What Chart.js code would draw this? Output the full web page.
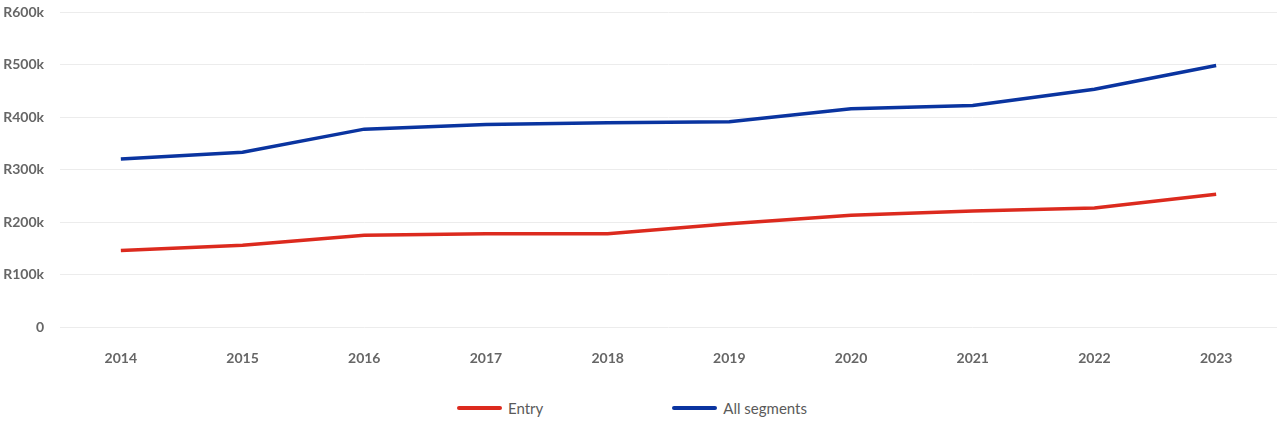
<!DOCTYPE html>
<html>
<head>
<meta charset="utf-8">
<script src="https://cdn.jsdelivr.net/npm/chart.js@4"></script>
<style>
  html, body { margin: 0; padding: 0; background: #fff; }
  #wrap { position: relative; width: 1280px; height: 382px; }
  #legend { display: flex; justify-content: center; gap: 129px; margin-top: 17px; padding-right: 16px; font-family: Lato, "Noto Sans", sans-serif; font-size: 15px; color: #5a5a5a; }
  .item { display: flex; align-items: center; }
  .swatch { width: 45px; height: 4px; border-radius: 2px; margin-right: 6px; }
</style>
</head>
<body>
<div id="wrap"><canvas id="chart"></canvas></div>
<div id="legend"></div>
<script>
const years = ['2014', '2015', '2016', '2017', '2018', '2019', '2020', '2021', '2022', '2023'];
const entry = [146000, 156000, 175000, 178000, 178000, 197000, 213000, 221000, 227000, 253000];
const allSegments = [320000, 333000, 377000, 386000, 389000, 391000, 416000, 422000, 453000, 498000];
const yTicks = [0, 100000, 200000, 300000, 400000, 500000, 600000];

const red = '#dc2a1e';
const blue = '#0a34a0';

const ctx = document.getElementById('chart').getContext('2d');
const chart = new Chart(ctx, {
  type: 'line',
  data: {
    labels: years,
    datasets: [
      { label: 'Entry', data: entry, borderColor: red, backgroundColor: red, borderWidth: 3.5, pointRadius: 0, tension: 0 },
      { label: 'All segments', data: allSegments, borderColor: blue, backgroundColor: blue, borderWidth: 3.5, pointRadius: 0, tension: 0 }
    ]
  },
  options: {
    responsive: true,
    maintainAspectRatio: false,
    animation: false,
    layout: { padding: { top: 12, right: 3, left: 0, bottom: 0 } },
    plugins: {
      legend: { display: false },
      tooltip: { enabled: false }
    },
    scales: {
      x: {
        offset: true,
        grid: { display: false },
        border: { display: false },
        ticks: { color: '#666', padding: 15, font: { family: 'Lato', size: 14, weight: 'bold' } }
      },
      y: {
        min: 0,
        max: 600000,
        afterBuildTicks: axis => { axis.ticks = yTicks.map(v => ({ value: v })); },
        afterFit: axis => { axis.width = 60; axis.paddingTop = 0; axis.paddingBottom = 0; },
        grid: { color: '#ececec', drawTicks: false },
        border: { display: false },
        ticks: {
          color: '#666',
          padding: 16,
          font: { family: 'Lato', size: 14, weight: 'bold' },
          callback: v => v === 0 ? '0' : 'R' + (v / 1000) + 'k'
        }
      }
    }
  }
});

// html legend built from the datasets
const legendEl = document.getElementById('legend');
chart.data.datasets.forEach(ds => {
  const item = document.createElement('div');
  item.className = 'item';
  const sw = document.createElement('span');
  sw.className = 'swatch';
  sw.style.background = ds.borderColor;
  const txt = document.createElement('span');
  txt.textContent = ds.label;
  item.appendChild(sw);
  item.appendChild(txt);
  legendEl.appendChild(item);
});
</script>
</body>
</html>
